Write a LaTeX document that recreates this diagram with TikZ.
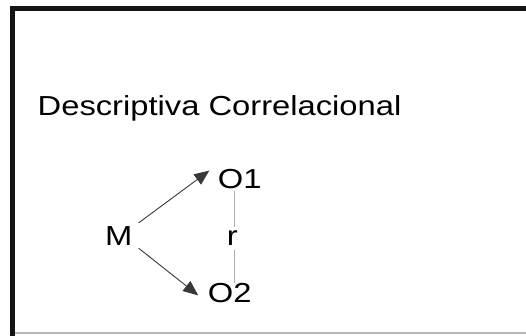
\documentclass[tikz,border=0pt]{standalone}
\usepackage{fontspec}
\setmainfont{Liberation Sans}
\usetikzlibrary{arrows.meta}
% horizontally widened text
\newcommand\hstretch[1]{\scalebox{1.19}[1]{#1}}
\begin{document}
\begin{tikzpicture}[x=1pt,y=1pt,
  lbl/.style={inner sep=0pt, font=\fontsize{27.5}{27.5}\selectfont, text=black},
  arr/.style={draw=black!78, line width=0.9pt, -{Triangle[length=15pt,width=12.5pt]}},
  corr/.style={draw=black!32, line width=1.2pt}]
\useasboundingbox (0,0) rectangle (526,335);
% frame: heavy top and left edges, light bottom rule
\draw[line width=5pt, black!92, line join=miter] (12,-5) -- (12,326) -- (531,326);
\draw[black!28, line width=1.5pt] (14.5,2) -- (531,2);
% heading
\node[lbl, anchor=base west] (title) at (37.5,219) {\hstretch{Descriptiva Correlacional}};
% correlational scheme
\node[lbl, anchor=base, inner xsep=6pt, inner ysep=3pt] (M) at (118.8,90) {\hstretch{M}};
\node[lbl, anchor=base west, inner xsep=8.4pt] (O1) at (209.3,147) {\hstretch{O1}};
\node[lbl, anchor=base west, inner xsep=9.5pt] (O2) at (198.2,32.5) {\hstretch{O2}};
\node[lbl, anchor=base, inner ysep=3pt] (r) at (232.4,90) {\hstretch{r}};
\draw[arr] (M.north east) -- ([yshift=-2pt]O1.north west);
\draw[arr] (M.south east) -- ([yshift=-2.3pt]O2.west);
\draw[corr, shorten >=2.5pt] ([xshift=1.9pt]r.north) -- ([xshift=1.9pt]r.north |- O1.south);
\draw[corr, shorten <=1.5pt] ([xshift=1.9pt]r.south) -- ([xshift=1.9pt]r.south |- O2.north);
\end{tikzpicture}
\end{document}
